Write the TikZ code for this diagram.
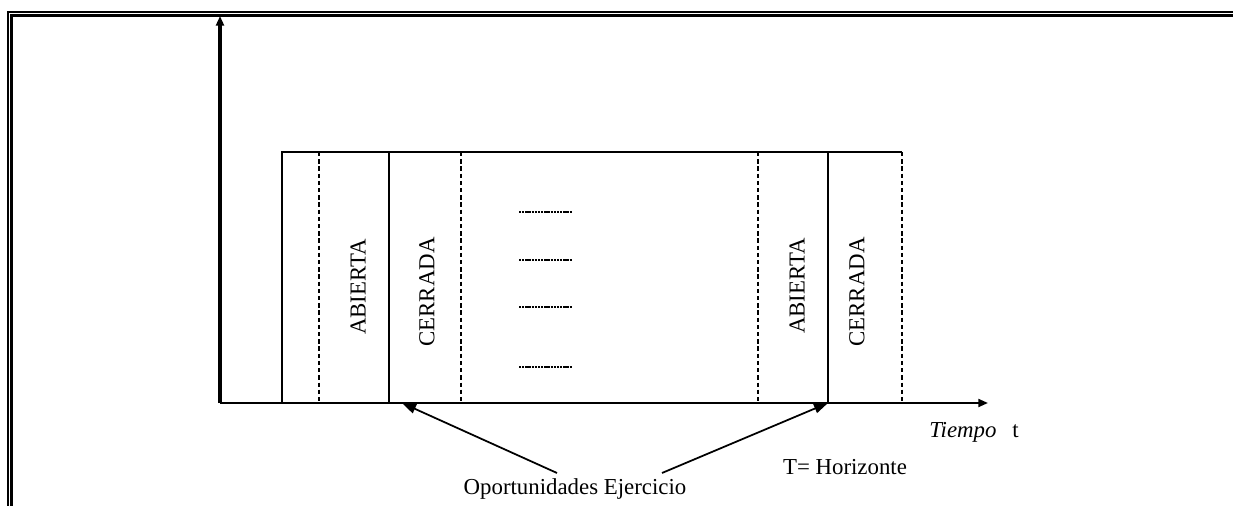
\documentclass[tikz,border=0pt]{standalone}
\usepackage{fontspec}
\setmainfont{Liberation Serif}
\usetikzlibrary{arrows.meta}

\begin{document}
\begin{tikzpicture}[x=0.02cm, y=-0.02cm,
    marco/.style={line width=1.4pt},
    eje/.style={-{Triangle[length=5.5pt,width=4.5pt]}},
    solida/.style={line width=1pt},
    trazos/.style={line width=0.8pt, dash pattern=on 2.5pt off 1.6pt},
    puntos/.style={line width=1.6pt, dash pattern=on 1.3pt off 0.5pt},
    etiqueta/.style={font=\fontsize{13}{15}\selectfont, inner sep=0pt},
    flecha/.style={line width=1pt, -{Triangle[length=8pt,width=5.5pt]}}]
    \useasboundingbox (0,0) rectangle (1233,506);

    % Marco doble
    \draw[marco] (8,506) -- (8,12) -- (1233,12);
    \draw[marco] (11.5,506) -- (11.5,15.5) -- (1233,15.5);

    % Ejes
    \coordinate (origen) at (220,403);
    \draw[eje, line width=2pt] (origen) -- (220,16);
    \draw[eje, line width=1.2pt] (origen) -- (988,403);

    % Ventanas de ejercicio
    \draw[solida] (282,403) -- (282,152) -- (902,152);
    \foreach \x in {389,828} \draw[solida] (\x,152) -- (\x,403);
    \foreach \x in {319,461,758,902} \draw[trazos] (\x,152) -- (\x,403);

    \node[etiqueta, rotate=90] (ab1) at (358,287) {ABIERTA};
    \node[etiqueta, rotate=90] (ce1) at (427,292) {CERRADA};
    \node[etiqueta, rotate=90] (ab2) at (797,286) {ABIERTA};
    \node[etiqueta, rotate=90] (ce2) at (857,292) {CERRADA};

    % Puntos suspensivos
    \foreach \y in {212,260,307,367} \draw[puntos] (519,\y) -- (572,\y);

    % Textos de abajo
    \node[etiqueta] (tiempo) at (974,432) {\textit{Tiempo}\hspace{9pt}t};
    \node[etiqueta] (horiz) at (845,467) {T= Horizonte};
    \node[etiqueta] (oport) at (575,489) {Oportunidades Ejercicio};

    % Flechas a las oportunidades
    \coordinate (ej1) at (402,403);
    \coordinate (ej2) at (828,403);
    \coordinate (s1) at (557,473);
    \coordinate (s2) at (662,473);
    \draw[flecha] (s1) -- (ej1);
    \draw[flecha] (s2) -- (ej2);
\end{tikzpicture}
\end{document}
